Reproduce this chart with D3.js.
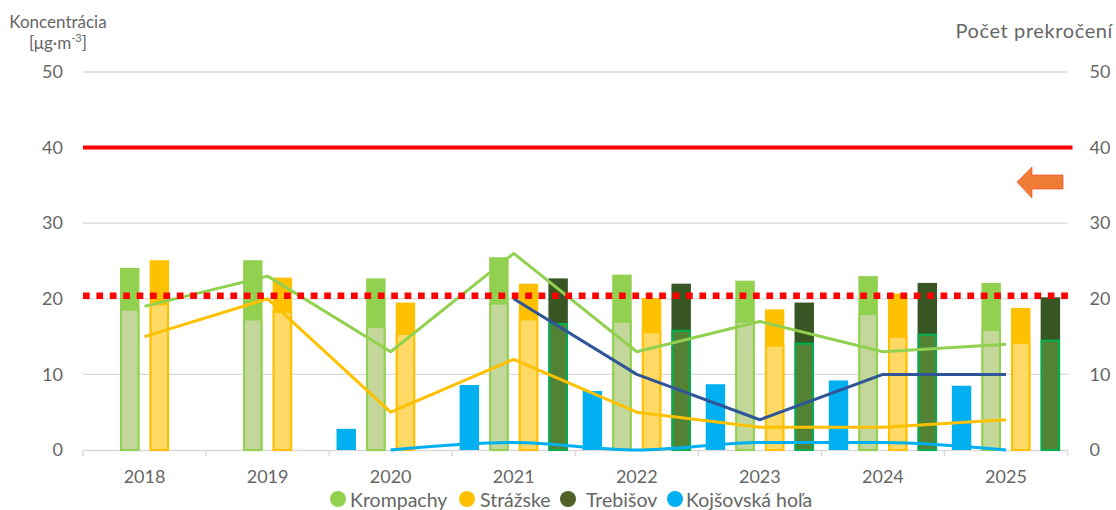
<!DOCTYPE html>
<html><head><meta charset="utf-8">
<script src="https://cdn.jsdelivr.net/npm/d3@7"></script>
<style>
body{margin:0;background:#fff;}
svg{display:block;font-family:Lato, "Open Sans", sans-serif;}
</style></head>
<body><svg id="c" width="1116" height="510"></svg>
<script>
const years = ["2018","2019","2020","2021","2022","2023","2024","2025"];
const seriesNames = ["Kojšovská hoľa","Krompachy","Strážske","Trebišov"];
const legendNames = ["Krompachy","Strážske","Trebišov","Kojšovská hoľa"];
const yTicks = [0,10,20,30,40,50];

// concentration (total bar) and lower part
const kojsovTotal = [null,null,2.8,8.6,7.8,8.7,9.2,8.5];
const krompTotal  = [24.1,25.1,22.7,25.5,23.2,22.4,23.0,22.1];
const krompLower  = [18.7,17.4,16.4,19.5,17.1,17.1,18.1,16.0];
const strazTotal  = [25.1,22.8,19.5,22.0,20.1,18.6,20.7,18.8];
const strazLower  = [19.4,18.4,15.5,17.4,15.7,13.9,15.1,14.3];
const trebTotal   = [null,null,null,22.7,22.0,19.5,22.1,20.2];
const trebLower   = [null,null,null,16.8,15.9,14.2,15.4,14.6];

// exceedance counts (right axis)
const krompCount = [19,23,13,26,13,17,13,14];
const strazCount = [15,20,5,12,5,3,3,4];
const trebCount  = [null,null,null,20,10,4,10,10];
const kojsovCount= [null,null,0,1,0,1,1,0];

const limitAnnual = 40;
const limitDotted = 20.4;

const svg = d3.select("#c");
const L = 83, R = 1067.5, T = 72, B = 450;
const x0 = d3.scaleBand().domain(years).range([L,R]).padding(0);
const x1 = d3.scaleBand().domain(seriesNames).range([0,x0.bandwidth()]).paddingInner(0.343).paddingOuter(0.25);
const y = d3.scaleLinear().domain([0,50]).range([B,T]);
const y2 = d3.scaleLinear().domain([0,50]).range([B,T]);
const textCol = "#666666";
const font = "18px";

// gridlines
svg.append("g").selectAll("line").data(yTicks.filter(d=>d>0)).join("line")
  .attr("x1",L).attr("x2",R).attr("y1",d=>y(d)).attr("y2",d=>y(d))
  .attr("stroke","#D9D9D9").attr("stroke-width",1.3);

// x axis
const xAxis = svg.append("g").attr("transform",`translate(0,${B})`)
  .call(d3.axisBottom(x0).tickSize(0).tickPadding(20));
xAxis.select(".domain").attr("stroke","#D9D9D9").attr("stroke-width",1.3);
xAxis.selectAll("text").attr("fill",textCol).style("font-size",font).style("font-family","Lato");
// boundary ticks
svg.append("g").selectAll("line").data(years.concat(["end"])).join("line")
  .attr("x1",(d,i)=> i<years.length ? x0(d) : R).attr("x2",(d,i)=> i<years.length ? x0(d) : R)
  .attr("y1",B).attr("y2",B+6).attr("stroke","#D9D9D9").attr("stroke-width",1.3);

// left axis
const yl = svg.append("g").attr("transform",`translate(${L-16},0)`)
  .call(d3.axisLeft(y).tickValues(yTicks).tickSize(0).tickPadding(4));
yl.select(".domain").remove();
yl.selectAll("text").attr("fill",textCol).style("font-size",font).style("font-family","Lato");
// right axis
const yr = svg.append("g").attr("transform",`translate(${R+18},0)`)
  .call(d3.axisRight(y2).tickValues(yTicks).tickSize(0).tickPadding(4));
yr.select(".domain").remove();
yr.selectAll("text").attr("fill",textCol).style("font-size",font).style("font-family","Lato");

// titles
svg.append("text").attr("x",58).attr("y",28).attr("text-anchor","middle")
  .attr("fill",textCol).style("font-size","17px").text("Koncentrácia");
const t2 = svg.append("text").attr("x",58).attr("y",49).attr("text-anchor","middle")
  .attr("fill",textCol).style("font-size","17px");
t2.append("tspan").text("[μg·m");
t2.append("tspan").attr("dy",-7).style("font-size","11px").text("-3");
t2.append("tspan").attr("dy",7).text("]");
svg.append("text").attr("x",1113).attr("y",38).attr("text-anchor","end")
  .attr("fill",textCol).style("font-size","20px").style("letter-spacing","0.6px").text("Počet prekročení");

// bars
const barSpecs = [
  {name:"Kojšovská hoľa", total:kojsovTotal, lower:null, top:"#00B0F0"},
  {name:"Krompachy", total:krompTotal, lower:krompLower, top:"#92D050", fill:"#C4D79B", stroke:"#92D050"},
  {name:"Strážske", total:strazTotal, lower:strazLower, top:"#FFC000", fill:"#FFD966", stroke:"#FFC000"},
  {name:"Trebišov", total:trebTotal, lower:trebLower, top:"#375623", fill:"#548235", stroke:"#00B050"}
];
const gb = svg.append("g");
barSpecs.forEach(s=>{
  const data = years.map((yr,i)=>({yr, t:s.total[i], l:s.lower? s.lower[i]:null})).filter(d=>d.t!=null);
  gb.append("g").selectAll("rect").data(data).join("rect")
    .attr("x",d=>x0(d.yr)+x1(s.name)).attr("width",x1.bandwidth())
    .attr("y",d=>y(d.t)).attr("height",d=>y(0)-y(d.t)).attr("fill",s.top);
  if(s.lower){
    gb.append("g").selectAll("rect").data(data).join("rect")
      .attr("x",d=>x0(d.yr)+x1(s.name)+1).attr("width",x1.bandwidth()-2)
      .attr("y",d=>y(d.l)+1).attr("height",d=>y(0)-y(d.l)-1)
      .attr("fill",s.fill).attr("stroke",s.stroke).attr("stroke-width",2);
  }
});

// limit lines
svg.append("line").attr("x1",L).attr("x2",R+5).attr("y1",y(limitAnnual)).attr("y2",y(limitAnnual))
  .attr("stroke","#FF0000").attr("stroke-width",4);

// exceedance lines
const lineSpecs = [
  {vals:krompCount, color:"#92D050", curve:d3.curveLinear},
  {vals:strazCount, color:"#FFC000", curve:d3.curveLinear},
  {vals:trebCount, color:"#2F5597", curve:d3.curveLinear},
  {vals:kojsovCount, color:"#00B0F0", curve:d3.curveMonotoneX}
];
lineSpecs.forEach(s=>{
  const pts = years.map((yr,i)=>({yr,v:s.vals[i]})).filter(d=>d.v!=null);
  const ln = d3.line().x(d=>x0(d.yr)+x0.bandwidth()/2).y(d=>y2(d.v)).curve(s.curve);
  svg.append("path").datum(pts).attr("d",ln).attr("fill","none")
    .attr("stroke",s.color).attr("stroke-width",3).attr("stroke-linejoin","round");
});

svg.append("line").attr("x1",L).attr("x2",R+5).attr("y1",y(limitDotted)).attr("y2",y(limitDotted))
  .attr("stroke","#FF0000").attr("stroke-width",6.5).attr("stroke-dasharray","6.7,6.7");

// arrow
const defs = svg.append("defs");
const grad = defs.append("linearGradient").attr("id","ag").attr("x1","0").attr("y1","0").attr("x2","0").attr("y2","1");
grad.append("stop").attr("offset","0").attr("stop-color","#F0843E");
grad.append("stop").attr("offset","0.5").attr("stop-color","#EE7A33");
grad.append("stop").attr("offset","1").attr("stop-color","#F0843E");
svg.append("path")
  .attr("d","M1017,182 L1032,167 L1032,175 L1063,175 L1063,189 L1032,189 L1032,198 Z")
  .attr("fill","url(#ag)").attr("stroke","#FF3A1A").attr("stroke-width",0.6);

// legend
const legColors = {"Krompachy":"#92D050","Strážske":"#FFC000","Trebišov":"#4F6228","Kojšovská hoľa":"#00B0F0"};
const legPos = [{cx:338,tx:350},{cx:467,tx:480},{cx:568,tx:586},{cx:675,tx:686}];
const lg = svg.append("g");
legendNames.forEach((n,i)=>{
  lg.append("circle").attr("cx",legPos[i].cx).attr("cy",499).attr("r",8).attr("fill",legColors[n]);
  lg.append("text").attr("x",legPos[i].tx).attr("y",507).attr("fill",textCol).style("font-size","19.5px").text(n);
});
</script></body></html>
